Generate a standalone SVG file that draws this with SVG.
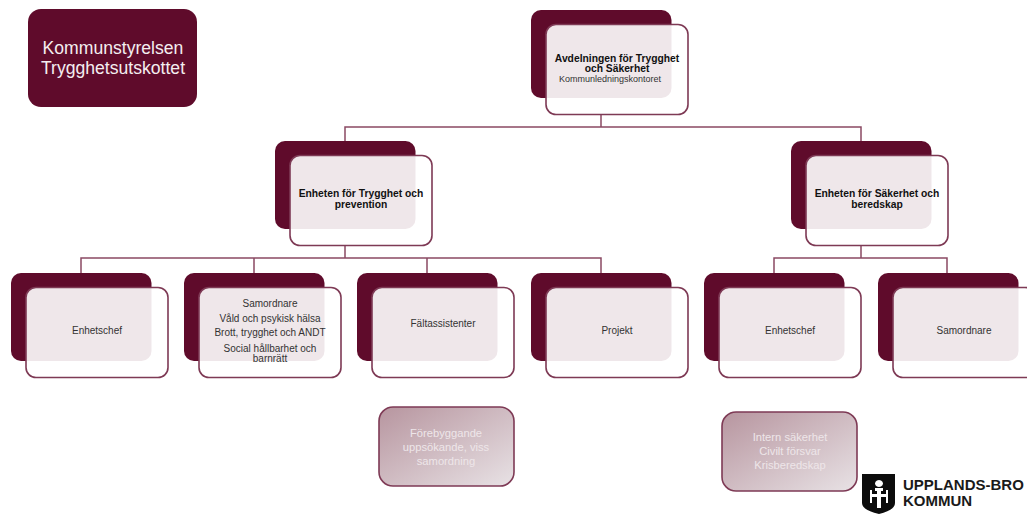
<svg xmlns="http://www.w3.org/2000/svg" width="1027" height="514" viewBox="0 0 1027 514">
<style>
text{font-family:"Liberation Sans",Arial,sans-serif;text-anchor:middle;fill:#222}
.d{fill:#5f0b2b}
.f{fill:#fff;fill-opacity:.9;stroke:#7e3a55;stroke-width:1.6}
.b{font-size:10.3px;font-weight:bold;fill:#111}
.s{font-size:10px;fill:#333}
.c{fill:none;stroke:#8a4a63;stroke-width:1.5}
.g{fill:url(#gr);stroke:#7e3a55;stroke-width:1.6}
.w{font-size:11.2px;fill:#eee6e9}
.l{font-size:15px;font-weight:bold;fill:#1a1a1a;text-anchor:start}
</style>
<defs>
<linearGradient id="gr" x1="0" y1="0" x2="1" y2="1"><stop offset="0" stop-color="#b7959f"/><stop offset="1" stop-color="#e8e2e5"/></linearGradient>
<g id="card"><rect class="d" x="0" y="0" width="140.500" height="88" rx="10"/><rect class="f" x="15" y="14.500" width="142" height="90" rx="10"/></g>
</defs>
<g id="connectors">
<path class="c" d="M601 115V127M345 141V127H861V141"/>
<path class="c" d="M345 246V258M81 273V258H601V273M254 258V273M427 258V273"/>
<path class="c" d="M861 246V258M774 273V258H947V273"/>
</g>
<g id="kommunstyrelsen"><rect class="d" x="28" y="9" width="169" height="98" rx="13"/>
<text x="113" y="54" font-size="17.600" style="fill:#f4eef0">Kommunstyrelsen</text><text x="113" y="74" font-size="17.600" style="fill:#f4eef0">Trygghetsutskottet</text></g>
<g id="avdelningen"><use href="#card" x="531" y="10"/>
<text class="b" x="617" y="62">Avdelningen för Trygghet</text><text class="b" x="617" y="72">och Säkerhet</text><text class="s" x="610" y="81.500" style="font-size:9px">Kommunledningskontoret</text></g>
<g id="enheten-trygghet"><use href="#card" x="275" y="141"/>
<text class="b" x="361" y="197">Enheten för Trygghet och</text><text class="b" x="361" y="208">prevention</text></g>
<g id="enheten-sakerhet"><use href="#card" x="791" y="141"/>
<text class="b" x="877" y="197">Enheten för Säkerhet och</text><text class="b" x="877" y="208">beredskap</text></g>
<g id="enhetschef-1"><use href="#card" x="11" y="273"/><text class="s" x="97" y="334">Enhetschef</text></g>
<g id="samordnare-1"><use href="#card" x="184" y="273"/>
<text class="s" x="270" y="307">Samordnare</text><text class="s" x="270" y="322">Våld och psykisk hälsa</text><text class="s" x="270" y="336">Brott, trygghet och ANDT</text><text class="s" x="270" y="352">Social hållbarhet och</text><text class="s" x="270" y="362">barnrätt</text></g>
<g id="faltassistenter"><use href="#card" x="357" y="273"/><text class="s" x="443" y="327">Fältassistenter</text></g>
<g id="projekt"><use href="#card" x="531" y="273"/><text class="s" x="617" y="334">Projekt</text></g>
<g id="enhetschef-2"><use href="#card" x="704" y="273"/><text class="s" x="790" y="334">Enhetschef</text></g>
<g id="samordnare-2"><use href="#card" x="878" y="273"/><text class="s" x="964" y="334">Samordnare</text></g>
<g id="forebyggande"><rect class="g" x="379" y="407" width="135" height="79" rx="14"/>
<text class="w" x="446" y="437">Förebyggande</text><text class="w" x="446" y="451">uppsökande, viss</text><text class="w" x="446" y="465">samordning</text></g>
<g id="intern"><rect class="g" x="722" y="412" width="135" height="79" rx="14"/>
<text class="w" x="790" y="441">Intern säkerhet</text><text class="w" x="790" y="455">Civilt försvar</text><text class="w" x="790" y="469">Krisberedskap</text></g>
<g id="logo">
<path d="M862 474H895V503Q895 510 879 514Q862 510 862 503Z" fill="#0c0c0c"/>
<path d="M879 480a4 3.500 0 1 0 .01 0M875 488H883V491H881V494H886V490H888V503H886V497H881V508H877V497H872V503H870V490H872V494H877V491H875Z" fill="#fff" fill-rule="evenodd"/>
<text class="l" x="903" y="489.500">UPPLANDS-BRO</text><text class="l" x="903" y="505.500">KOMMUN</text>
</g>
</svg>
